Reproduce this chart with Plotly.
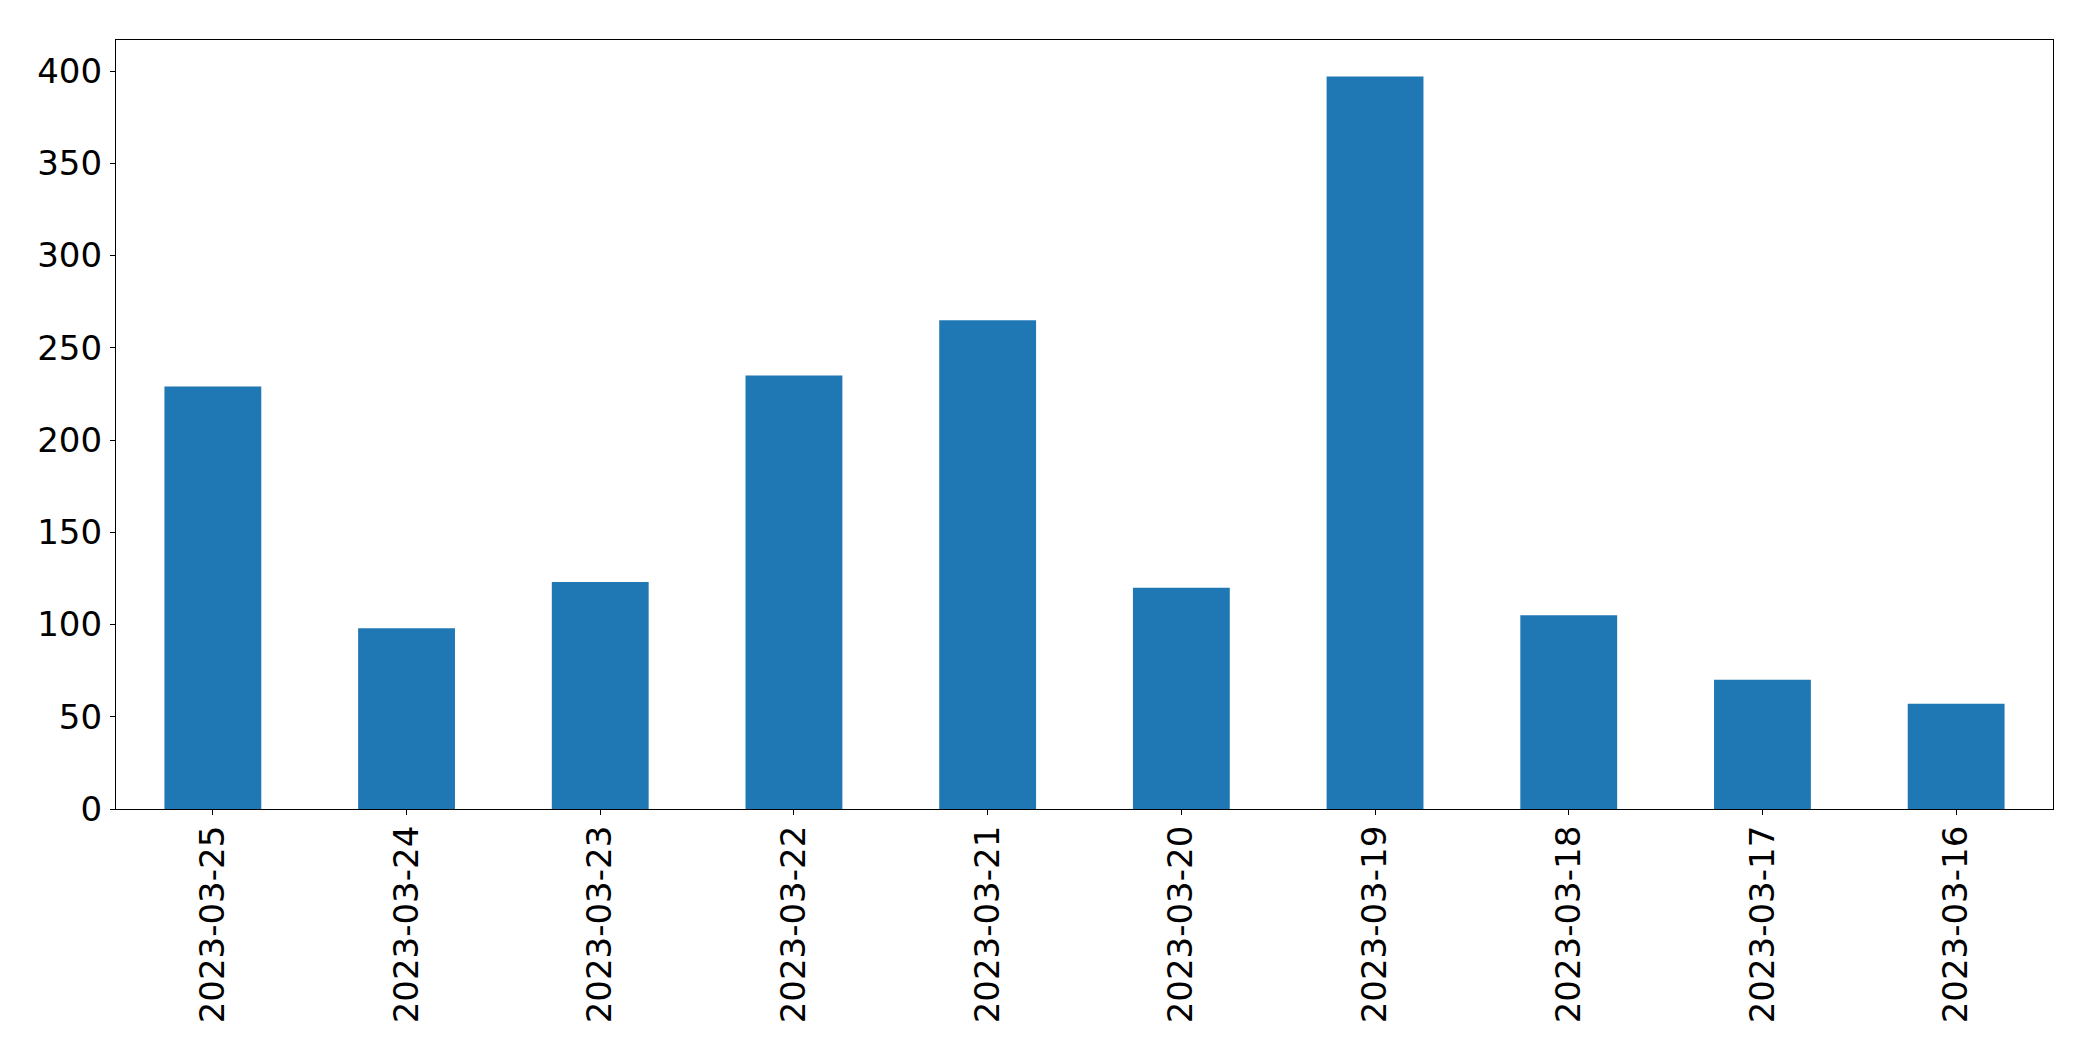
import plotly.graph_objects as go

dates = ["2023-03-25", "2023-03-24", "2023-03-23", "2023-03-22", "2023-03-21",
         "2023-03-20", "2023-03-19", "2023-03-18", "2023-03-17", "2023-03-16"]
counts = [229, 98, 123, 235, 265, 120, 397, 105, 70, 57]
y_ticks = [0, 50, 100, 150, 200, 250, 300, 350, 400]

fig = go.Figure(go.Bar(x=dates, y=counts, marker=dict(color="#1f77b4", line=dict(width=0))))

fig.update_layout(
    width=2093, height=1061,
    margin=dict(l=116, r=40, t=40, b=252, autoexpand=False),
    paper_bgcolor="white", plot_bgcolor="white",
    bargap=0.5, showlegend=False,
    font=dict(family="DejaVu Sans", size=34, color="black"),
)
fig.update_xaxes(
    type="category", range=[-0.5, 9.5], tickangle=-90,
    showline=True, mirror=True, linecolor="black", linewidth=1.3,
    ticks="outside", ticklen=5, tickwidth=1.3, tickcolor="black",
    showgrid=False, zeroline=False, ticklabelstandoff=-3, automargin=False,
)
fig.update_yaxes(
    range=[0, 416.85], tickvals=y_ticks,
    showline=True, mirror=True, linecolor="black", linewidth=1.3,
    ticks="outside", ticklen=5, tickwidth=1.3, tickcolor="black",
    showgrid=False, zeroline=False, ticklabelstandoff=1, automargin=False,
)
fig.write_html("out.html", config={"displayModeBar": False},
               post_script="document.body.style.margin='0';document.body.style.overflow='hidden';")
